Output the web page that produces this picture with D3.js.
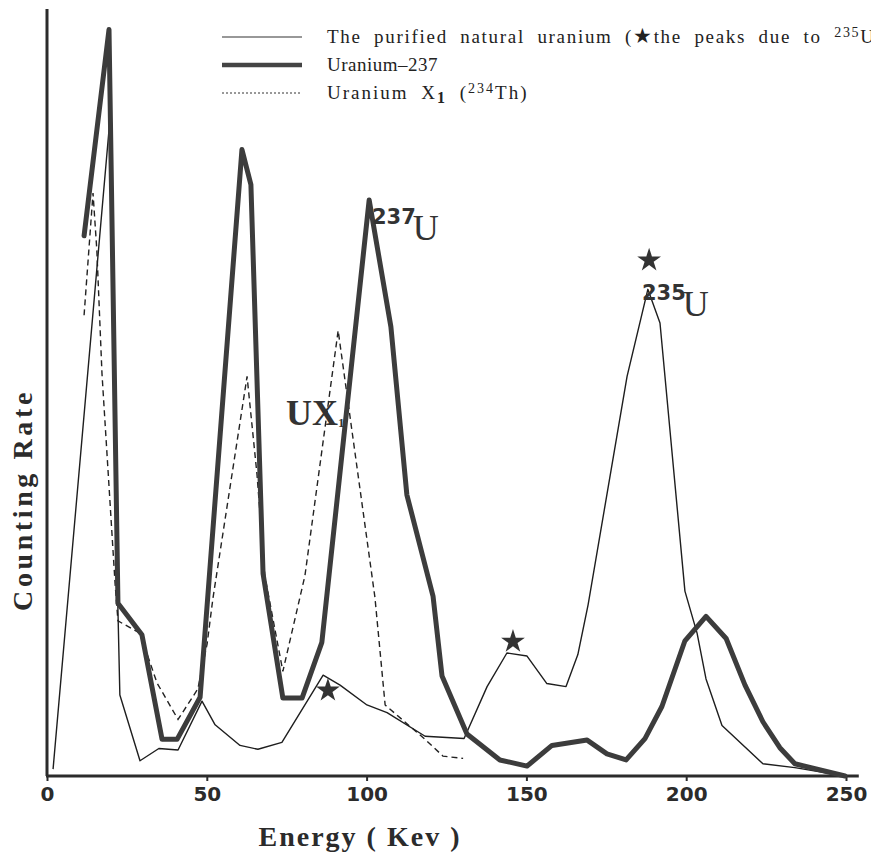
<!DOCTYPE html>
<html>
<head>
<meta charset="utf-8">
<script src="https://cdn.jsdelivr.net/npm/d3@7"></script>
<style>
  body { margin: 0; background: #fff; }
  svg { display: block; }
</style>
</head>
<body>
<div id="chart"></div>
<script>
// energy (keV) and counting rate (arbitrary units)
const naturalEnergy = [1.9, 19.7, 22.2, 22.8, 29.1, 35.0, 41.0, 48.5, 52.6, 60.4, 66.0, 73.5, 86.4, 91.7, 100.1, 106.4, 118.3, 130.5, 137.7, 143.9, 150.2, 156.4, 162.4, 166.1, 169.3, 181.5, 188.0, 191.8, 199.6, 203.4, 206.2, 211.2, 224.0, 234.0, 249.7];
const naturalRate = [0.9, 86.0, 21.7, 10.6, 2.0, 3.6, 3.4, 9.8, 6.7, 4.0, 3.5, 4.4, 13.2, 11.9, 9.3, 8.3, 5.2, 4.9, 11.7, 16.1, 15.7, 12.1, 11.7, 15.9, 22.4, 52.3, 63.7, 59.3, 24.2, 18.7, 12.7, 6.6, 1.6, 1.1, 0];

const u237Energy = [11.6, 19.4, 22.2, 29.7, 36.0, 40.7, 47.9, 61.0, 63.8, 67.6, 73.8, 79.8, 86.0, 100.8, 107.6, 112.6, 120.8, 123.6, 131.4, 141.7, 150.2, 158.0, 169.0, 175.2, 181.2, 187.1, 192.4, 199.6, 206.2, 212.5, 218.4, 224.0, 229.3, 234.0, 249.7];
const u237Rate = [70.7, 97.7, 22.6, 18.5, 4.8, 4.8, 10.3, 82.0, 77.4, 26.5, 10.2, 10.2, 17.5, 75.4, 58.8, 36.8, 23.5, 13.1, 5.5, 2.1, 1.3, 4.0, 4.7, 2.9, 2.1, 4.9, 9.1, 17.7, 20.9, 18.0, 11.9, 7.1, 3.7, 1.6, 0];

const ux1Energy = [11.6, 14.4, 15.6, 17.2, 21.3, 22.2, 29.1, 34.4, 41.0, 47.2, 50.1, 51.9, 62.6, 65.7, 68.2, 73.8, 80.7, 91.1, 102.6, 105.8, 118.3, 123.9, 130.2];
const ux1Rate = [60.3, 76.3, 68.8, 52.7, 25.2, 20.3, 18.7, 12.2, 7.4, 11.4, 17.3, 23.2, 52.3, 39.5, 26.1, 13.7, 26.2, 58.3, 23.4, 9.3, 4.8, 2.6, 2.3];

// peaks due to 235U (star marks)
const starEnergy = [87.9, 145.8, 188.4];
const starRate = [11.2, 17.6, 67.5];

const xTicks = [0, 50, 100, 150, 200, 250];

const width = 871, height = 855;

const x = d3.scaleLinear().domain([0, 250]).range([47, 846]);
const y = d3.scaleLinear().domain([0, 100]).range([776, 12]);

const svg = d3.select("#chart")
  .append("svg")
  .attr("width", width)
  .attr("height", height);

const ink = "#2b2b2b";

// axes
svg.append("line")
  .attr("x1", x(0)).attr("x2", x(0))
  .attr("y1", 9).attr("y2", y(0))
  .attr("stroke", ink).attr("stroke-width", 3);

svg.append("line")
  .attr("x1", x(0) - 1).attr("x2", x(254))
  .attr("y1", y(0)).attr("y2", y(0))
  .attr("stroke", ink).attr("stroke-width", 3);

const xAxis = svg.append("g")
  .attr("transform", `translate(0,${y(0)})`)
  .call(d3.axisBottom(x).tickValues(xTicks).tickSizeInner(5).tickSizeOuter(0).tickPadding(6));

xAxis.select(".domain").remove();
xAxis.selectAll(".tick line").attr("stroke", ink).attr("stroke-width", 2);
xAxis.selectAll(".tick text")
  .attr("fill", ink)
  .style("font-family", "'DejaVu Sans', sans-serif")
  .style("font-weight", "bold")
  .style("font-size", "20px");

// axis titles
svg.append("text")
  .attr("x", 360).attr("y", 846)
  .attr("text-anchor", "middle")
  .attr("fill", ink)
  .style("font-family", "'Liberation Serif', serif")
  .style("font-weight", "bold")
  .style("font-size", "28px")
  .style("letter-spacing", "2px")
  .text("Energy ( Kev )");

svg.append("text")
  .attr("transform", "translate(32,500) rotate(-90)")
  .attr("text-anchor", "middle")
  .attr("fill", ink)
  .style("font-family", "'Liberation Serif', serif")
  .style("font-weight", "bold")
  .style("font-size", "28px")
  .style("letter-spacing", "3.6px")
  .text("Counting Rate");

// series
function pts(xs, ys) {
  return xs.map((d, i) => [d, ys[i]]);
}
const line = d3.line().x(d => x(d[0])).y(d => y(d[1]));

svg.append("path")
  .datum(pts(ux1Energy, ux1Rate))
  .attr("d", line)
  .attr("fill", "none")
  .attr("stroke", "#222")
  .attr("stroke-width", 1.4)
  .attr("stroke-dasharray", "6,4");

svg.append("path")
  .datum(pts(naturalEnergy, naturalRate))
  .attr("d", line)
  .attr("fill", "none")
  .attr("stroke", "#1e1e1e")
  .attr("stroke-width", 1.4)
  .attr("stroke-linejoin", "round");

svg.append("path")
  .datum(pts(u237Energy, u237Rate))
  .attr("d", line)
  .attr("fill", "none")
  .attr("stroke", "#3c3c3c")
  .attr("stroke-width", 5)
  .attr("stroke-linejoin", "round")
  .attr("stroke-linecap", "round");

// star marks
svg.selectAll(".star")
  .data(pts(starEnergy, starRate))
  .enter()
  .append("path")
  .attr("class", "star")
  .attr("transform", d => `translate(${x(d[0])},${y(d[1])})`)
  .attr("d", d3.symbol(d3.symbolStar, 175))
  .attr("fill", "#333");

// peak labels
function peakLabel(px, py, sup, main, sub) {
  const t = svg.append("text")
    .attr("x", px).attr("y", py)
    .attr("fill", "#333");
  if (sup) {
    t.append("tspan")
      .style("font-family", "'DejaVu Sans', sans-serif")
      .style("font-weight", "bold")
      .style("font-size", "21px")
      .attr("dy", -16)
      .text(sup);
  }
  t.append("tspan")
    .style("font-family", "'Liberation Serif', serif")
    .style("font-weight", sup ? "normal" : "bold")
    .style("font-size", "36px")
    .attr("dy", sup ? 16 : 0)
    .attr("dx", sup ? -3 : 0)
    .text(main);
  if (sub) {
    t.append("tspan")
      .style("font-family", "'Liberation Serif', serif")
      .style("font-weight", "bold")
      .style("font-size", "13px")
      .attr("dy", 2)
      .text(sub);
  }
}
peakLabel(372, 240, "237", "U");
peakLabel(286, 425, null, "UX", "1");
peakLabel(642, 316, "235", "U");

// legend
const legendRows = [
  { y: 37, w: 1.2, dash: null },
  { y: 65, w: 4.5, dash: null },
  { y: 93, w: 1, dash: "2,2" }
];
legendRows.forEach(r => {
  svg.append("line")
    .attr("x1", 222).attr("x2", 302)
    .attr("y1", r.y).attr("y2", r.y)
    .attr("stroke", r.w > 2 ? "#444" : "#333")
    .attr("stroke-width", r.w)
    .attr("stroke-dasharray", r.dash);
});

const legendFont = (sel) => sel
  .attr("fill", "#222")
  .style("font-family", "'Liberation Serif', serif")
  .style("font-size", "19px")
  .style("letter-spacing", "1.1px")
  .style("word-spacing", "6px");

// the reference cuts this line at the right edge too
const l1 = svg.append("text").attr("x", 327).attr("y", 43).call(legendFont)
  .style("letter-spacing", "1.7px");
l1.append("tspan").text("The purified natural uranium (");
l1.append("tspan").style("font-family", "'DejaVu Sans', sans-serif").style("font-size", "21px").text("★");
l1.append("tspan").text("the peaks due to ");
l1.append("tspan").attr("dy", -6).style("font-size", "14px").text("235");
l1.append("tspan").attr("dy", 6).text("U)");

svg.append("text").attr("x", 327).attr("y", 71).call(legendFont)
  .style("letter-spacing", "0.5px").text("Uranium–237");

const l3 = svg.append("text").attr("x", 327).attr("y", 99).call(legendFont)
  .style("letter-spacing", "2px");
l3.append("tspan").text("Uranium X");
l3.append("tspan").attr("dy", 4).style("font-size", "16px").style("font-weight", "bold").text("1");
l3.append("tspan").attr("dy", -4).text(" (");
l3.append("tspan").attr("dy", -6).style("font-size", "14px").text("234");
l3.append("tspan").attr("dy", 6).text("Th)");
</script>
</body>
</html>
